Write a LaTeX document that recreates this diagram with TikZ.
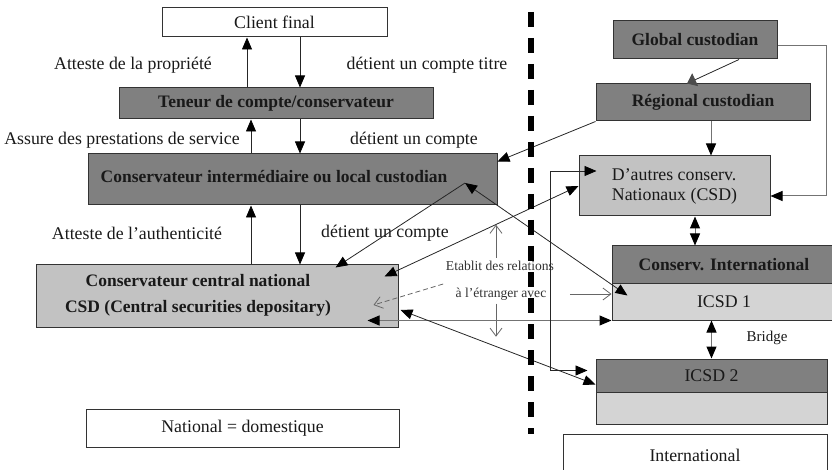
\documentclass[tikz,border=0pt]{standalone}
\usepackage{fontspec}
\setmainfont{Liberation Serif}
\usetikzlibrary{arrows.meta}

\definecolor{boxdark}{gray}{0.5}
\definecolor{boxlight}{gray}{0.76}
\definecolor{boxpale}{gray}{0.83}

\tikzset{
  >={Triangle[length=12pt,width=10pt,color=black]},
  plainbox/.style={draw=black!80, line width=1pt, inner sep=0pt, fill=white},
  darkbox/.style={plainbox, fill=boxdark},
  lightbox/.style={plainbox, fill=boxlight},
  palebox/.style={plainbox, fill=boxpale},
  txt/.style={font=\fontsize{17.8}{20}\selectfont, text=black!90},
  boldtxt/.style={font=\fontsize{17.5}{26}\selectfont\bfseries, text=black!90},
  smalltxt/.style={font=\fontsize{13.6}{15}\selectfont, text=black!80},
  link/.style={draw=black!85, line width=0.8pt},
  greylink/.style={draw=black!55, line width=1pt},
  openarrow/.style={draw=black!60, line width=0.8pt, -{Straight Barb[length=8pt,width=12pt]}}
}

\begin{document}
\begin{tikzpicture}[x=1pt,y=-1pt]
\clip (0,0) rectangle (832,470);

\node[plainbox, txt, minimum width=225, minimum height=29] (client) at (274.5,22.5) {Client final};
\node[darkbox, boldtxt, minimum width=314, minimum height=31] (teneur) at (276,103.5) {Teneur de compte/conservateur};
\node[darkbox, minimum width=409, minimum height=51] (interm) at (292.5,179.5) {};
\node[boldtxt] (intermtext) at (274,177) {Conservateur interm\'ediaire ou local custodian};
\node[lightbox, minimum width=362, minimum height=62] (csd) at (217,296) {};
\node[boldtxt, align=center] (csdtext) at (198,295) {Conservateur central national\\CSD (Central securities depositary)};
\node[plainbox, txt, minimum width=313, minimum height=38] (national) at (242.5,428) {National = domestique};

\node[txt] (propriete) at (133,65) {Atteste de la propri\'et\'e};
\node[txt] (titre) at (427,65) {d\'etient un compte titre};
\node[txt] (service) at (122,140) {Assure des prestations de service};
\node[txt] (compte1) at (414,140) {d\'etient un compte};
\node[txt] (authentic) at (137,233) {Atteste de l'authenticit\'e};
\node[txt] (compte2) at (385,233) {d\'etient un compte};

\node[darkbox, boldtxt, minimum width=164, minimum height=38] (global) at (695,40) {Global custodian};
\node[darkbox, boldtxt, minimum width=214, minimum height=37] (regional) at (703,102.5) {R\'egional custodian};
\node[lightbox, txt, align=left, minimum width=191, minimum height=60] (autres) at (674.5,186) {D'autres conserv.\\Nationaux (CSD)};
\node[darkbox, boldtxt, minimum width=224, minimum height=37] (intl) at (724,264.5) {Conserv. International};
\node[palebox, txt, minimum width=224, minimum height=37] (icsd1) at (724,301.5) {ICSD 1};
\node[darkbox, txt, minimum width=231, minimum height=33] (icsd2) at (711.5,375.5) {ICSD 2};
\node[palebox, minimum width=231, minimum height=32] (icsd2low) at (711.5,408) {};
\node[plainbox, txt, minimum width=264, minimum height=42] (international) at (695,455) {International};
\node[txt, font=\fontsize{15}{18}\selectfont] (bridge) at (767,338) {Bridge};

\node[smalltxt] (etab) at (500,266) {Etablit des relations};
\node[smalltxt] (etr) at (501,294) {\`a l'\'etranger avec};
\coordinate (hub) at (465,183);

\draw[link, ->] ([xshift=-29pt]teneur.north) -- ([xshift=-29pt]teneur.north |- client.south);
\draw[link, ->] ([xshift=24pt]teneur.north |- client.south) -- ([xshift=24pt]teneur.north);
\draw[link, ->] ([xshift=-25pt]teneur.south |- interm.north) -- ([xshift=-25pt]teneur.south);
\draw[link, ->] ([xshift=24pt]teneur.south) -- ([xshift=24pt]teneur.south |- interm.north);
\draw[link, ->] ([xshift=-41.5pt]interm.south |- csd.north) -- ([xshift=-41.5pt]interm.south);
\draw[link, ->] ([xshift=7.5pt]interm.south) -- ([xshift=7.5pt]interm.south |- csd.north);

\draw[link, ->] (regional.south west) -- ([yshift=-8pt]interm.north east);
\draw[greylink, ->] ([xshift=8pt]regional.south) -- ([xshift=8pt]regional.south |- autres.north);
\draw[greylink, ->] ([yshift=-6pt]global.east) -- ++(49,0) |- ([yshift=-10pt]autres.east);
\draw[link, -{Triangle[length=9pt,width=14pt,color=black!70]}] ([xshift=44pt]global.south) -- ([xshift=-16pt]regional.north);
\draw[greylink, <->] ([xshift=20.5pt]autres.south) -- ([xshift=20.5pt]autres.south |- intl.north);
\draw[greylink, <->] (icsd2.north |- icsd1.south) -- (icsd2.north);

\draw[link, ->] (hub) -- ([shift={(-63,3)}]csd.north east);
\draw[link, <->] (hub) -- ([shift={(16,13)}]icsd1.north west);
\draw[link, <->] ([shift={(-14,12)}]csd.north east) -- (autres.west);
\draw[openarrow, dash pattern=on 5pt off 3pt] ([shift={(-9,-10)}]etr.west) -- ([shift={(-25,9)}]csd.east);
\draw[openarrow] ([xshift=-4pt]etab.north) -- ++(0,-33);
\draw[openarrow] ([xshift=-5pt]etr.south) -- ++(0,33);
\draw[openarrow] ([xshift=20pt]etr.east) -- (etr.east -| icsd1.west);
\draw[greylink, <->] ([xshift=-31pt]csd.east |- icsd1.south west) -- (icsd1.south west);
\draw[link, <->] ([shift={(2,14)}]csd.east) -- ([yshift=8pt]icsd2.south west);
\draw[link, <->] ([shift={(18,-15)}]autres.west) -- ++(-46,0) |- ([shift={(-8,-5)}]icsd2.west);

\draw[line width=6pt, dash pattern=on 15pt off 11pt] (531,12) -- (531,434);
\end{tikzpicture}
\end{document}
